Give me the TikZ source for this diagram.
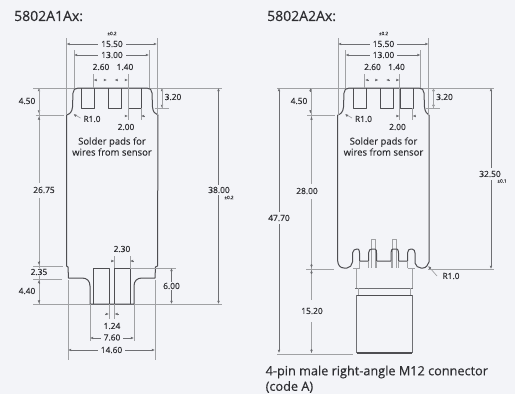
\documentclass[tikz,border=0pt]{standalone}
\usepackage{fontspec}
\setmainfont{Open Sans}
\newfontfamily\boldish[FakeBold=0.35]{Open Sans}
\newfontfamily\semi[FakeBold=0.15]{Open Sans}
\usetikzlibrary{arrows.meta}
\definecolor{bgc}{HTML}{F3F4F8}
\definecolor{outl}{HTML}{4E4E52}
\definecolor{ext}{HTML}{A0A1A4}
\definecolor{dimc}{HTML}{6E6F73}
\definecolor{txt}{HTML}{2E2E32}
\tikzset{
  outline/.style={draw=outl,line width=1pt,line join=round},
  thin outline/.style={draw=ext,line width=0.8pt},
  extline/.style={draw=ext,line width=0.7pt},
  dimline/.style={draw=dimc,line width=0.8pt,{Latex[length=3.2pt,width=2.8pt]}-{Latex[length=3.2pt,width=2.8pt]}},
  tiptwo/.style={draw=dimc,line width=0.8pt,-{Latex[length=3.2pt,width=2.8pt]}},
  dimtext/.style={font=\semi\fontsize{8.4}{10}\selectfont,text=txt,inner sep=1pt},
  gaptext/.style={dimtext,fill=bgc,inner xsep=3pt},
  tol/.style={font=\semi\fontsize{4.6}{5}\selectfont,text=txt,inner sep=0pt},
  heading/.style={font=\boldish\fontsize{14}{16}\selectfont,text=txt,inner sep=0pt,anchor=west},
  note/.style={font=\semi\fontsize{9.5}{11}\selectfont,text=txt,inner sep=0pt,align=center},
  caption/.style={font=\boldish\fontsize{12.7}{15}\selectfont,text=txt,inner sep=0pt,anchor=west}
}
% pad row: three open-top pads with shift
\newcommand{\padsat}[1]{%
  \draw[outline] (#1+0,88)--(#1+0,108)--(#1+13,108)--(#1+13,88);
  \draw[outline] (#1+27,88)--(#1+27,108)--(#1+40,108)--(#1+40,88);
  \draw[outline] (#1+47.5,88)--(#1+47.5,108)--(#1+60,108)--(#1+60,88);
}
% upper dimensions shared by both drawings; #1 = left body edge
\newcommand{\upperdims}[1]{%
  \draw[extline] (#1,38)--(#1,115) (#1+90.5,38)--(#1+90.5,115);
  \draw[extline] (#1+7.5,50)--(#1+7.5,88) (#1+82.5,50)--(#1+82.5,88);
  \draw[dimline] (#1,44)--(#1+90.5,44);
  \draw[dimline] (#1+7.5,55)--(#1+82.5,55);
  \node[gaptext] at (#1+45.5,44) {15.50};
  \node[gaptext] at (#1+45.5,55) {13.00};
  \node[tol] at (#1+45.5,33.5) {±0.2};
  \node[dimtext] at (#1+34.5,67) {2.60};
  \node[dimtext] at (#1+58.5,67) {1.40};
  \draw[extline] (#1+26.5,74)--(#1+26.5,88) (#1+61.5,74)--(#1+61.5,108);
  \draw[tiptwo] (#1+30.5,80)--(#1+27,80);
  \draw[tiptwo] (#1+37,80)--(#1+40.5,80);
  \draw[tiptwo] (#1+51.5,80)--(#1+48,80);
  \draw[tiptwo] (#1+58,80)--(#1+61.5,80);
  \draw[tiptwo] (#1+95.5,91)--(#1+95.5,88);
  \draw[tiptwo] (#1+95.5,105)--(#1+95.5,108);
  \draw[extline] (#1+95.5,88)--(#1+95.5,108);
  \draw[extline] (#1+88,108)--(#1+102,108);
  \node[dimtext] at (#1+106.5,97) {3.20};
  \node[dimtext] at (#1+59.5,127) {2.00};
  \draw[extline] (#1+61.5,108)--(#1+61.5,120) (#1+74.5,108)--(#1+74.5,120);
  \draw[tiptwo] (#1+58.5,116)--(#1+61.5,116);
  \draw[tiptwo] (#1+77.5,116)--(#1+74.5,116);
  \node[dimtext] at (#1+25.5,119) {R1.0};
  \draw[extline] (#1+14,118)--(#1+8,114.5);
  \draw[tiptwo] (#1+9,115.5)--(#1+7,114);
  \node[note] at (#1+45.5,146.5) {Solder pads for\\[0pt]wires from sensor};
  % 4.50
  \draw[tiptwo] (#1-27.5,92)--(#1-27.5,88);
  \draw[tiptwo] (#1-27.5,110)--(#1-27.5,113.5);
  \draw[extline] (#1-31,115)--(#1-3,115);
}
\begin{document}
\begin{tikzpicture}[x=1pt,y=-1pt]
\useasboundingbox (0,0) rectangle (515,394);
\fill[bgc] (0,0) rectangle (515,394);

% ---------- left drawing ----------
\node[heading] at (14,16) {5802A1Ax:};
\draw[extline] (33,88)--(222,88);
\draw[extline] (33,304)--(222,304);
\padsat{81}
\draw[outline] (66.5,266)--(66.5,115) .. controls (70,114) and (72,112) .. (72.5,107)
  --(73,93) .. controls (73,90) and (75,88) .. (78,88)--(147,88)
  .. controls (150,88) and (152,90) .. (152,93)--(152.5,107)
  .. controls (153,112) and (155,114) .. (158,115)--(157.5,266)--(155.5,267)--(155,278)--(142,278)
  .. controls (137,278) and (134,281) .. (134,286)--(134,304)--(90,304)--(90,286)
  .. controls (90,281) and (87,278) .. (82,278)--(68.5,278)--(68,267)--cycle;
\draw[outline] (93,304)--(93,268)--(109,268)--(109,304);
\draw[outline] (114.5,304)--(114.5,268)--(130,268)--(130,304);
\upperdims{66.5}
% left verticals
\draw[extline] (39,88)--(39,183) (39,198)--(39,304);
\node[dimtext] at (27,101) {4.50};
\node[dimtext] at (44,190) {26.75};
\draw[tiptwo] (39,120)--(39,116.5);
\draw[extline] (33,266)--(63,266);
\draw[extline] (33,279)--(62,279);
\draw[tiptwo] (39,261)--(39,265);
\draw[tiptwo] (39,284)--(39,280);
\draw[tiptwo] (39,300)--(39,303.5);
\node[gaptext,inner xsep=1pt] at (39,272) {2.35};
\node[dimtext] at (27,291) {4.40};
% right vertical
\draw[dimline] (218.5,88)--(218.5,304);
\node[gaptext,inner ysep=2pt] at (219,190) {38.00};
\node[tol] at (229,197.5) {±0.2};
% lower left
\draw[extline] (130,268)--(176,268);
\draw[dimline] (171.5,268)--(171.5,304);
\node[gaptext,inner xsep=1pt] at (171.5,286) {6.00};
\node[dimtext] at (122,249) {2.30};
\draw[extline] (114.5,256)--(114.5,268) (130,256)--(130,268);
\draw[tiptwo] (111,261)--(114.5,261);
\draw[tiptwo] (133.5,261)--(130,261);
\node[dimtext] at (112,326) {1.24};
\draw[extline] (109,304)--(109,319) (114.5,304)--(114.5,319);
\draw[tiptwo] (105,314)--(109,314);
\draw[tiptwo] (118.5,314)--(114.5,314);
\draw[extline] (90,304)--(90,341) (134,304)--(134,341);
\draw[dimline] (90,338)--(134,338);
\node[gaptext] at (112,337.5) {7.60};
\draw[extline] (68,280)--(68,360) (155,280)--(155,360);
\draw[dimline] (68,350)--(155,350);
\node[gaptext] at (111.5,350) {14.60};

% ---------- right drawing ----------
\node[heading] at (267,16) {5802A2Ax:};
\draw[extline] (277,88)--(494,88);
\padsat{353}
% M12 connector
\draw[thin outline] (356.5,268)--(356.5,288) (412,268)--(412,288);
\draw[thin outline] (371,239)--(371,268) (375.5,239)--(375.5,268) (371,239)--(375.5,239);
\draw[thin outline] (392,239)--(392,268) (396,239)--(396,268) (392,239)--(396,239);
\draw[outline,draw=dimc] (355,288)--(413,288);
\draw[thin outline] (358.5,295)--(358.5,288) (410,295)--(410,288);
\draw[outline] (356.5,295)--(412,295);
\draw[thin outline,draw=dimc] (356.5,295)--(356.5,353) (412,295)--(412,353);
\draw[draw=outl,line width=1.3pt] (356.5,353)--(412,353);
\draw[outline] (337.7,115) .. controls (341,114) and (343,112) .. (343.5,107)
  --(344,93) .. controls (344,90) and (346,88) .. (349,88)--(419,88)
  .. controls (422,88) and (424,90) .. (424,93)--(424.5,107)
  .. controls (425,112) and (427,114) .. (429,115);
\draw[outline] (337.7,115)--(337.7,261) .. controls (338,265) and (340,268) .. (344,268)--(347,268)
  .. controls (350,268) and (352,265) .. (352.5,262)--(352.5,253)
  .. controls (353,250) and (355,249) .. (357,249)--(358,249)
  .. controls (359,249) and (359.5,251) .. (359.5,253)--(359.5,261)--(368.5,261)--(368.5,253)
  .. controls (369,250) and (370,249) .. (372,249)--(375,249)
  .. controls (376.5,249) and (376.5,251) .. (376.5,253)--(376.5,261)--(391,261)--(391,253)
  .. controls (391,250) and (392,249) .. (393,249)--(397,249)
  .. controls (398,249) and (398.5,251) .. (398.5,253)--(398.5,261)--(407.5,261)--(407.5,253)
  .. controls (408,250) and (409,249) .. (411,249)--(412,249)
  .. controls (414,249) and (415,251) .. (415,253)--(415,263)
  .. controls (416,266) and (418,268) .. (421,268)--(423,268)
  .. controls (426,268) and (428,265) .. (429,262)--(429,115);
\draw[thin outline] (359.5,261)--(359.5,268) (368.5,261)--(368.5,268) (376.5,261)--(376.5,268)
  (391,261)--(391,268) (398.5,261)--(398.5,268) (407.5,261)--(407.5,268) (359.5,268)--(352.5,268)
  (407.5,268)--(415,268);
\upperdims{338}
% left verticals
\draw[dimline] (279,88)--(279,353);
\node[gaptext,inner ysep=3pt] at (279,218) {47.70};
\draw[extline] (277,354)--(353,354);
\draw[extline] (311.5,88)--(311.5,184) (311.5,199)--(311.5,300) (311.5,322)--(311.5,353);
\node[dimtext] at (299,101) {4.50};
\node[dimtext] at (307,191) {28.00};
\node[dimtext] at (312,311) {15.20};
\draw[tiptwo] (311.5,120)--(311.5,116.5);
\draw[tiptwo] (311.5,264)--(311.5,268);
\draw[tiptwo] (311.5,274)--(311.5,270);
\draw[tiptwo] (311.5,349)--(311.5,353);
\draw[extline] (306,269)--(334,269);
% right verticals
\draw[extline] (428,269)--(494,269);
\draw[dimline] (491,88)--(491,269);
\node[gaptext,inner ysep=3pt] at (490,174) {32.50};
\node[tol] at (502,181) {±0.1};
\draw[extline] (437,276)--(430,268);
\draw[tiptwo] (430.5,268.5)--(428,266);
\node[dimtext] at (451,276) {R1.0};
\node[caption] at (265.5,372) {4-pin male right-angle M12 connector};
\node[caption] at (265.5,387) {(code A)};
\end{tikzpicture}
\end{document}
